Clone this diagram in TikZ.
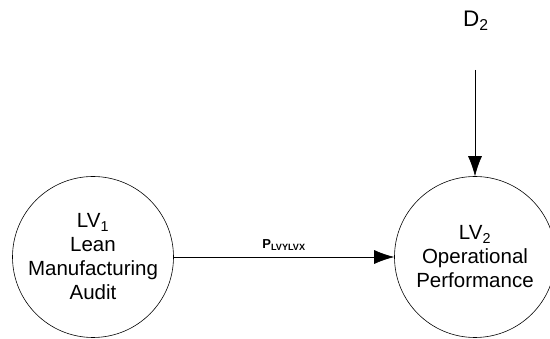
\documentclass[tikz,border=0pt]{standalone}
\usepackage{fontspec}
\setmainfont{Liberation Sans}
\usepackage{tikz}
\usetikzlibrary{arrows.meta}

\begin{document}
\begin{tikzpicture}[
	x = 1pt, y = -1pt,
	every path/.style = {line width = 0.6pt},
	latent/.style = {draw, circle, minimum size = 161pt, inner sep = 0pt, align = center,
		font = \fontsize{20.5}{24}\selectfont},
	effect/.style = {-{Latex[length = 20pt, width = 14pt]}},
	coef/.style = {font = \bfseries\fontsize{13}{15}\selectfont}
]
\useasboundingbox (0,0) rectangle (550,339);

% latent variables
\node[latent] (lv1) at (93,257) {LV\textsubscript{1}\\Lean\\Manufacturing\\Audit};
\node[latent] (lv2) at (475,257) {LV\textsubscript{2}\\Operational\\Performance};

% disturbance
\node[font = \fontsize{22.5}{26}\selectfont] (d2) at (476,21) {D\textsubscript{2}};
\coordinate (d2tail) at (475,70);

\draw[effect] (lv1) -- node[coef, above = 3pt] {P\textsubscript{LVYLVX}} (lv2);
\draw[effect] (d2tail) -- (lv2);
\end{tikzpicture}
\end{document}
